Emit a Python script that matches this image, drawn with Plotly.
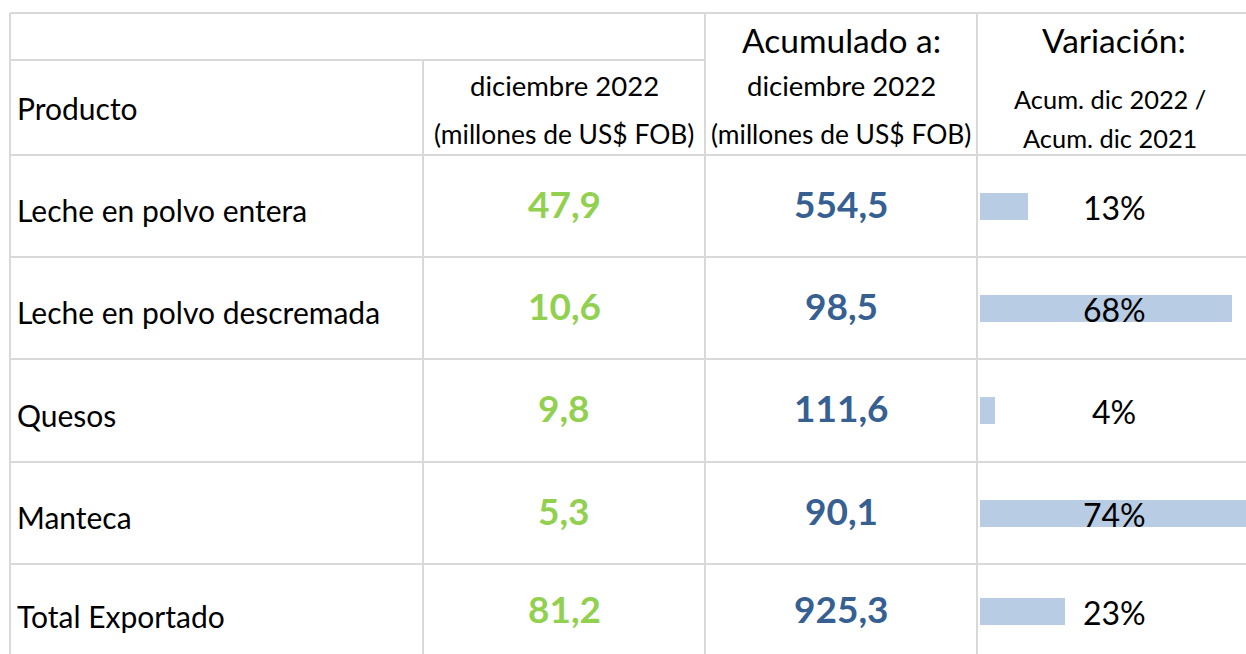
import plotly.graph_objects as go

# ---- data ----
productos = ["Leche en polvo entera", "Leche en polvo descremada", "Quesos", "Manteca", "Total Exportado"]
mes_dic_2022 = [47.9, 10.6, 9.8, 5.3, 81.2]
acum_dic_2022 = [554.5, 98.5, 111.6, 90.1, 925.3]
variacion_pct = [13, 68, 4, 74, 23]

header_producto = "Producto"
header_mes = ["diciembre 2022", "(millones de US$ FOB)"]
header_acum = ["Acumulado a:", "diciembre 2022", "(millones de US$ FOB)"]
header_var = ["Variación:", "Acum. dic 2022 /", "Acum. dic 2021"]

# ---- layout geometry (pixels) ----
W, H = 1246, 654
col_x = [10, 423, 705, 977, 1246]
row_top = [155, 257, 359, 462, 564]
row_bot = row_top[1:] + [659]
row_mid = [(a + b) / 2 for a, b in zip(row_top, row_bot)]
GRID = "#D9D9D9"
GREEN = "#92D050"
BLUE = "#376092"
BAR = "#B8CCE4"
FONT = "Lato"


def fmt(v):
    return f"{v:.1f}".replace(".", ",")


fig = go.Figure()

# variation data bars (own scale: ~3.7 px per percentage point)
bar_x0 = 980
px_per_pct = 3.7
fig.add_trace(go.Bar(
    x=variacion_pct, y=row_mid, base=0, orientation="h",
    width=27, marker=dict(color=BAR, line=dict(width=0)),
    xaxis="x2", yaxis="y", hoverinfo="skip", showlegend=False,
))

shapes = []

def hline(y, x0, x1):
    shapes.append(dict(type="line", xref="x", yref="y", x0=x0, x1=x1, y0=y, y1=y,
                       line=dict(color=GRID, width=2), layer="below"))

def vline(x, y0, y1):
    shapes.append(dict(type="line", xref="x", yref="y", x0=x, x1=x, y0=y0, y1=y1,
                       line=dict(color=GRID, width=2), layer="below"))

hline(13, col_x[0], W)
hline(60, col_x[0], col_x[2])
for y in [155] + row_top[1:]:
    hline(y, col_x[0], W)
vline(col_x[0], 13, H)
vline(col_x[1], 60, H)
vline(col_x[2], 13, H)
vline(col_x[3], 13, H)

ann = []

def text(x, y, s, size, color="#000000", xanchor="center", bold=False):
    ann.append(dict(x=x, y=y, xref="x", yref="y", text=(f"<b>{s}</b>" if bold else s),
                    showarrow=False, xanchor=xanchor, yanchor="middle",
                    font=dict(family=FONT, size=size, color=color)))

c1 = (col_x[1] + col_x[2]) / 2
c2 = (col_x[2] + col_x[3]) / 2
c3 = 1114

# headers
text(15, 108, header_producto, 30, xanchor="left")
text(c1, 85, header_mes[0], 27.5)
text(c1, 134, header_mes[1], 26.4)
text(c2, 40, header_acum[0], 33.5)
text(c2, 85, header_acum[1], 27.5)
text(c2, 134, header_acum[2], 26.4)
text(c3, 40, header_var[0], 33.5)
text(c3 - 4, 99, header_var[1], 25.4)
text(c3 - 4, 138, header_var[2], 25.4)

for i, p in enumerate(productos):
    ym = row_mid[i]
    text(15, ym + 4, p, 30, xanchor="left")
    text(c1, ym - 3, fmt(mes_dic_2022[i]), 37, GREEN, bold=True)
    text(c2, ym - 3, fmt(acum_dic_2022[i]), 37, BLUE, bold=True)
    text(c3, ym + 1, f"{variacion_pct[i]}%", 32)

fig.update_layout(
    width=W, height=H, margin=dict(l=0, r=0, t=0, b=0),
    paper_bgcolor="white", plot_bgcolor="rgba(0,0,0,0)",
    xaxis=dict(range=[0, W], visible=False, domain=[0, 1], fixedrange=True),
    yaxis=dict(range=[H, 0], visible=False, domain=[0, 1], fixedrange=True),
    xaxis2=dict(range=[0, (W - bar_x0) / px_per_pct], visible=False,
                domain=[bar_x0 / W, 1], anchor="y", fixedrange=True),
    shapes=shapes, annotations=ann, bargap=0,
)

fig.write_html("out.html", config={"displayModeBar": False},
               post_script="document.body.style.margin='0px';document.body.style.overflow='hidden';")
